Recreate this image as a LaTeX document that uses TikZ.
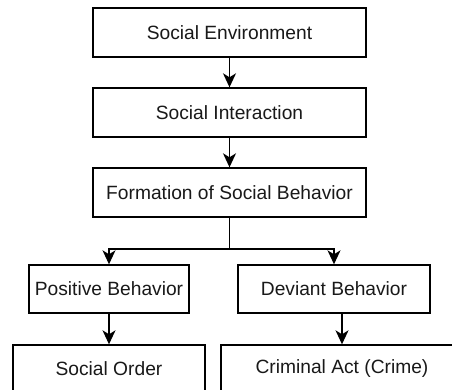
\documentclass[tikz,border=0pt]{standalone}
\usepackage{fontspec}
\setmainfont{Liberation Sans}
\usetikzlibrary{arrows.meta}
\begin{document}
\begin{tikzpicture}[x=1pt,y=-1pt,
  box/.style={draw=black,line width=1.4pt,fill=white,inner sep=0pt,
    font=\fontsize{19.2}{23}\selectfont,text=black!90},
  conn/.style={line width=1.4pt,-{Stealth[length=14pt,width=13pt,inset=4pt]}},
  plain/.style={line width=1.4pt}]
\useasboundingbox (0,0) rectangle (452,389);
\clip (0,0) rectangle (452,389);
\node[box,minimum width=273pt,minimum height=49pt] (env) at (229.5,32.5) {Social Environment};
\node[box,minimum width=273pt,minimum height=49pt] (int) at (229.5,112.5) {Social Interaction};
\node[box,minimum width=273pt,minimum height=49pt] (form) at (229.5,192.5) {Formation of Social Behavior};
\node[box,minimum width=160pt,minimum height=48pt] (pos) at (109,289) {Positive Behavior};
\node[box,minimum width=192pt,minimum height=48pt] (dev) at (334,289) {Deviant Behavior};
\node[box,minimum width=192pt,minimum height=48pt] (ord) at (109,369) {Social Order};
\node[box,minimum width=242pt,minimum height=48pt] (crime) at (342,369) {Criminal Act (Crime)};
\coordinate (j) at (229.5,249);
\draw[conn] (env) -- (int);
\draw[conn] (int) -- (form);
\draw[plain] (form.south) -- (j);
\draw[conn] (j) -| (pos.north);
\draw[conn] (j) -| (dev.north);
\draw[conn] (pos) -- (ord);
\draw[conn] (dev.south -| crime.north) -- (crime.north);
\end{tikzpicture}
\end{document}
